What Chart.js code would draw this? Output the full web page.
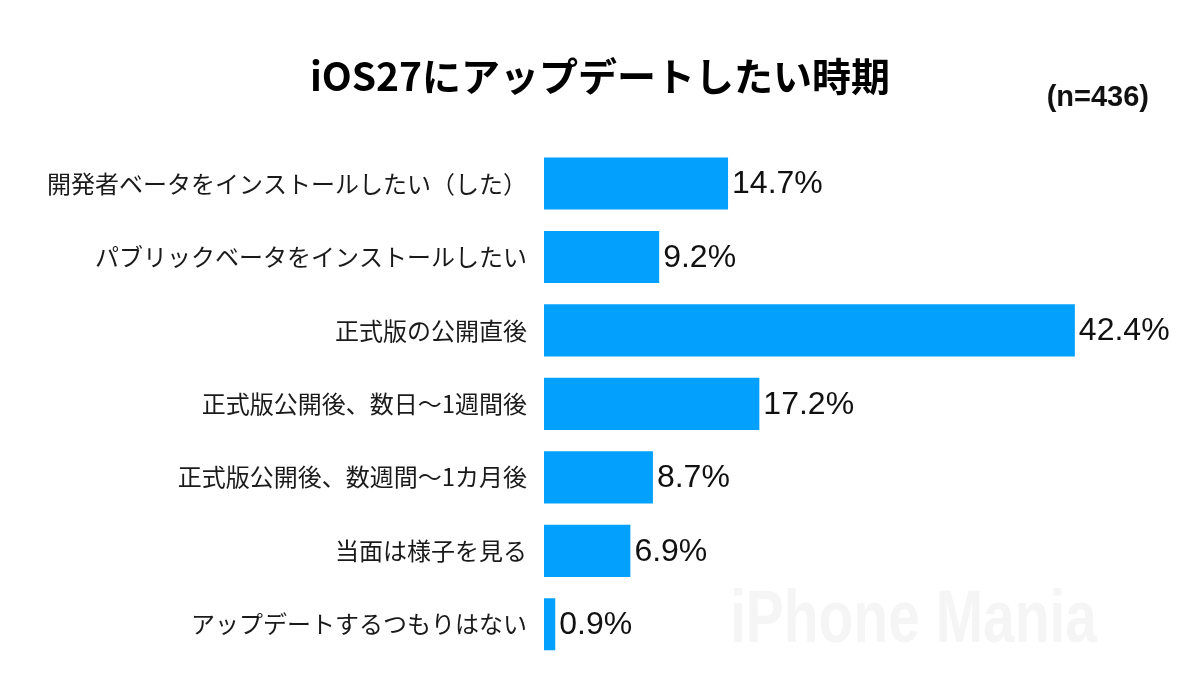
<!DOCTYPE html>
<html lang="ja">
<head>
<meta charset="utf-8">
<script src="https://cdn.jsdelivr.net/npm/chart.js@4/dist/chart.umd.min.js"></script>
<style>
  html, body { margin: 0; padding: 0; background: #ffffff; }
  #wrap { width: 1200px; height: 675px; position: relative; }
</style>
</head>
<body>
<div id="wrap"><canvas id="c" width="1200" height="675"></canvas></div>
<script>
const chartTitle = 'iOS27にアップデートしたい時期';
const sampleNote = '(n=436)';
const watermark = 'iPhone Mania';
const categories = [
  '開発者ベータをインストールしたい（した）',
  'パブリックベータをインストールしたい',
  '正式版の公開直後',
  '正式版公開後、数日〜1週間後',
  '正式版公開後、数週間〜1カ月後',
  '当面は様子を見る',
  'アップデートするつもりはない'
];
const percentages = [14.7, 9.2, 42.4, 17.2, 8.7, 6.9, 0.9];

const extrasPlugin = {
  id: 'extras',
  beforeDatasetsDraw(chart) {
    const ctx = chart.ctx;
    ctx.save();
    ctx.font = 'bold 74px "Liberation Sans Narrow", "Liberation Sans", sans-serif';
    const w = ctx.measureText(watermark).width;
    const target = 367;
    ctx.translate(730, 642);
    ctx.scale(target / w, 1);
    ctx.fillStyle = '#f5f5f5';
    ctx.textBaseline = 'alphabetic';
    ctx.textAlign = 'left';
    ctx.fillText(watermark, 0, 0);
    ctx.restore();
  },
  afterDatasetsDraw(chart) {
    const ctx = chart.ctx;
    const meta = chart.getDatasetMeta(0);
    ctx.save();
    ctx.font = '32px "Liberation Sans", Arial, sans-serif';
    ctx.fillStyle = '#111111';
    ctx.textAlign = 'left';
    ctx.textBaseline = 'middle';
    meta.data.forEach((bar, i) => {
      ctx.fillText(percentages[i].toFixed(1) + '%', bar.x + 4, bar.y + 1);
    });
    ctx.font = 'bold 29px "Liberation Sans", Arial, sans-serif';
    ctx.textAlign = 'right';
    ctx.fillText(sampleNote, 1149, 98);
    ctx.restore();
  }
};

new Chart(document.getElementById('c'), {
  type: 'bar',
  data: {
    labels: categories,
    datasets: [{
      data: percentages,
      backgroundColor: '#03A0FD',
      borderWidth: 0,
      categoryPercentage: 1.0,
      barPercentage: 0.71
    }]
  },
  options: {
    indexAxis: 'y',
    responsive: false,
    animation: false,
    devicePixelRatio: 1,
    layout: { padding: { left: 30, right: 30, top: 0, bottom: 14 } },
    plugins: {
      legend: { display: false },
      tooltip: { enabled: false },
      title: {
        display: true,
        text: chartTitle,
        color: '#000000',
        font: { family: '"Noto Sans CJK JP", sans-serif', size: 39, weight: 'bold', lineHeight: 1.2 },
        padding: { top: 53, bottom: 47 }
      }
    },
    scales: {
      x: {
        display: false,
        min: 0,
        max: 50
      },
      y: {
        afterFit(scale) {
          scale.width = 514;
          scale.paddingTop = 0;
          scale.paddingBottom = 0;
        },
        grid: { display: false, drawTicks: false },
        border: { display: false },
        ticks: {
          padding: 17,
          color: '#1a1a1a',
          font: { family: '"Noto Sans CJK JP", sans-serif', size: 24 }
        }
      }
    }
  },
  plugins: [extrasPlugin]
});
</script>
</body>
</html>
